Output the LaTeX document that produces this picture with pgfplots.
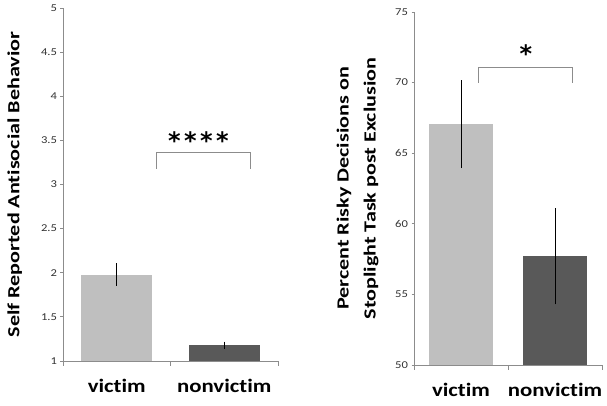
\documentclass[border=0pt]{standalone}
\usepackage{pgfplots}
\pgfplotsset{compat=1.18}
\usepackage{fontspec}
\setmainfont{Carlito}[FakeStretch=1.2, Ligatures={NoCommon,NoContextual}]
\newfontfamily\labelfont{Carlito}[FakeStretch=1.3, Ligatures={NoCommon,NoContextual}]
\newfontfamily\starfont{DejaVu Sans}
\definecolor{victimgray}{HTML}{BFBFBF}
\definecolor{nonvgray}{HTML}{595959}
\definecolor{axisgray}{HTML}{8C8C8C}
\definecolor{ticktext}{HTML}{333333}

\pgfplotsset{
  twobar/.style={
    scale only axis,
    anchor=south west,
    height=353pt,
    ybar, bar shift=0pt,
    xmin=-0.5, xmax=1.5,
    axis x line*=bottom, axis y line*=left,
    axis line style={axisgray, line width=0.8pt},
    tick align=outside,
    xtick={0,1}, xticklabels={vict\kern0pt im,nonvict\kern0pt im},
    minor xtick={-0.5,0.5,1.5},
    major x tick style={draw=none},
    minor x tick style={axisgray, line width=0.8pt},
    minor tick length=5pt,
    major tick length=2.5pt,
    y tick style={axisgray, line width=0.8pt},
    xticklabel style={font=\fontsize{19}{21}\selectfont\bfseries, text=black, yshift=-12pt},
    yticklabel style={font=\fontsize{10.5}{12}\selectfont, text=ticktext},
    /pgf/number format/assume math mode=true,
    ylabel style={font=\labelfont\fontsize{17}{27}\selectfont\bfseries, align=center, anchor=center},
    error bars/y dir=both, error bars/y explicit,
    error bars/error mark=none,
    error bars/error bar style={black, line width=0.8pt},
  }
}

\begin{document}
\begin{tikzpicture}[x=1pt,y=1pt]
\useasboundingbox (0,0) rectangle (607,406);

% left panel: self reported antisocial behavior
\begin{axis}[twobar,
  at={(63pt,45pt)}, width=215pt,
  bar width=71pt,
  ymin=1, ymax=5, ytick={1,1.5,...,5},
  yticklabel style={/pgf/number format/fixed},
  ylabel={Self Reported Antisocial Behavior},
  ylabel style={at={(axis description cs:-0.225,0.5)}},
]
\addplot[fill=victimgray, draw=none] coordinates {(0,1.98) +- (0,0.13)};
\addplot[fill=nonvgray, draw=none] coordinates {(1,1.18) +- (0,0.04)};
\draw[axisgray, line width=0.9pt] (axis cs:0.365,3.18) -- (axis cs:0.365,3.36) -- (axis cs:1.24,3.36) -- (axis cs:1.24,3.18);
\node[font=\starfont\fontsize{24}{24}\selectfont\bfseries] at (axis cs:0.76,3.50) {*\hspace{3.5pt}*\hspace{3.5pt}*\hspace{3.5pt}*};
\end{axis}

% right panel: risky decisions
\begin{axis}[twobar,
  at={(414pt,41pt)}, width=188pt,
  bar width=64pt,
  ymin=50, ymax=75, ytick={50,55,...,75},
  ylabel={Percent Risky Decisions on\\Stoplight Task post Exclusion},
  ylabel style={at={(axis description cs:-0.3,0.5)}},
]
\addplot[fill=victimgray, draw=none] coordinates {(0,67.05) +- (0,3.1)};
\addplot[fill=nonvgray, draw=none] coordinates {(1,57.7) +- (0,3.4)};
\draw[axisgray, line width=0.9pt] (axis cs:0.19,70.0) -- (axis cs:0.19,71.1) -- (axis cs:1.19,71.1) -- (axis cs:1.19,70.0);
\node[font=\starfont\fontsize{24}{24}\selectfont\bfseries] at (axis cs:0.69,72.05) {*};
\end{axis}
\end{tikzpicture}
\end{document}
